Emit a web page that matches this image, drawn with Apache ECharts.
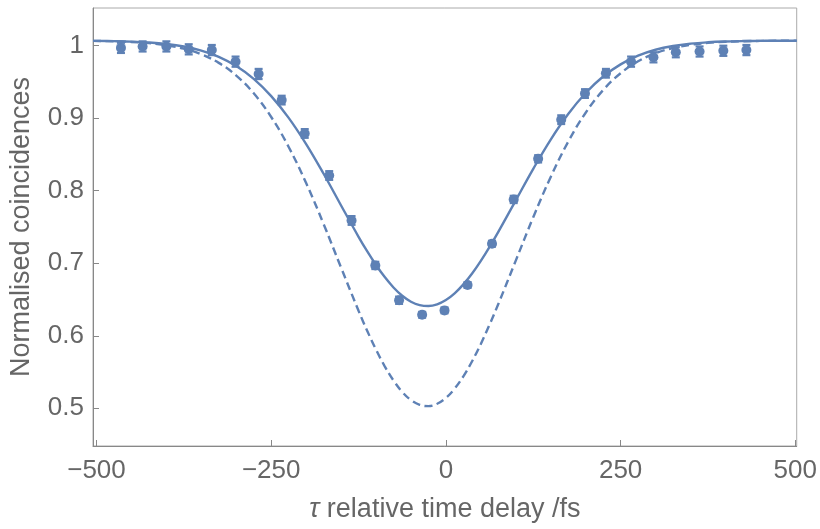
<!DOCTYPE html>
<html><head><meta charset="utf-8">
<script src="https://cdn.jsdelivr.net/npm/echarts@6/dist/echarts.min.js"></script>
<style>html,body{margin:0;padding:0;background:#fff}#c{width:820px;height:529px}</style>
</head><body><div id="c"></div>
<script>
// measured data points
const delays = [-465,-434,-400,-368,-335,-301,-268,-235,-202,-167,-135,-101,-67,-34,-2,31,66,97,132,165,199,229,265,297,329,363,397,430];
const coincidences = [0.997,0.999,0.999,0.995,0.994,0.978,0.961,0.925,0.879,0.821,0.759,0.697,0.649,0.629,0.635,0.670,0.727,0.788,0.844,0.898,0.934,0.962,0.978,0.984,0.991,0.992,0.993,0.994];
const errors = [0.007,0.007,0.007,0.007,0.007,0.007,0.007,0.006,0.006,0.006,0.006,0.005,0.005,0.004,0.004,0.004,0.004,0.005,0.005,0.006,0.006,0.006,0.007,0.007,0.007,0.007,0.007,0.007];
// fitted curve (solid) and theoretical curve (dashed)
const curveX = [-505,-475,-450,-425,-400,-375,-350,-325,-300,-275,-250,-225,-200,-175,-150,-125,-112.5,-100,-87.5,-75,-62.5,-50,-37.5,-25,-12.5,0,12.5,25,37.5,50,62.5,75,100,125,150,175,200,225,250,275,300,325,350,375,400,425,450,475,502];
const fitSolid = [1.0067,1.0063,1.0057,1.0045,1.0024,0.9989,0.9933,0.9847,0.9720,0.9543,0.9305,0.9005,0.8644,0.8234,0.7797,0.7365,0.7163,0.6976,0.6809,0.6666,0.6552,0.6470,0.6423,0.6410,0.6434,0.6493,0.6585,0.6709,0.6859,0.7033,0.7226,0.7433,0.7868,0.8302,0.8706,0.9058,0.9348,0.9575,0.9743,0.9863,0.9944,0.9996,1.0028,1.0047,1.0058,1.0064,1.0067,1.0069,1.0069];
const fitDashed = [1.0066,1.0061,1.0052,1.0036,1.0007,0.9959,0.9882,0.9763,0.9588,0.9344,0.9017,0.8604,0.8106,0.7541,0.6940,0.6345,0.6066,0.5809,0.5579,0.5383,0.5226,0.5113,0.5048,0.5030,0.5063,0.5144,0.5271,0.5441,0.5649,0.5888,0.6154,0.6438,0.7037,0.7635,0.8191,0.8676,0.9076,0.9388,0.9620,0.9785,0.9896,0.9968,1.0013,1.0039,1.0054,1.0062,1.0066,1.0068,1.0069];
const xTicks = [-500,-250,0,250,500];
const yTicks = [0.5,0.6,0.7,0.8,0.9,1];

const blue = '#5e81b5';
const txt = '#666666';
const font = 'Liberation Sans, Arial, sans-serif';

const chart = echarts.init(document.getElementById('c'), null, {renderer:'canvas'});
const pts = delays.map((x,i)=>[x, coincidences[i]]);
const errData = delays.map((x,i)=>[x, coincidences[i]-errors[i], coincidences[i]+errors[i]]);
const solid = curveX.map((x,i)=>[x, fitSolid[i]]);
const dashed = curveX.map((x,i)=>[x, fitDashed[i]]);

function renderErr(params, api){
  const x = api.value(0), lo = api.value(1), hi = api.value(2);
  const p1 = api.coord([x, lo]), p2 = api.coord([x, hi]);
  const w = 4;
  const style = {stroke: blue, lineWidth: 2.2};
  return {type:'group', children:[
    {type:'line', shape:{x1:p1[0],y1:p1[1],x2:p2[0],y2:p2[1]}, style},
    {type:'line', shape:{x1:p1[0]-w,y1:p1[1],x2:p1[0]+w,y2:p1[1]}, style},
    {type:'line', shape:{x1:p2[0]-w,y1:p2[1],x2:p2[0]+w,y2:p2[1]}, style}
  ]};
}

chart.setOption({
  animation:false,
  backgroundColor:'#fff',
  grid:{left:92,right:23,top:8,bottom:83,show:true,borderColor:'#aaaaaa',borderWidth:1,backgroundColor:'transparent'},
  xAxis:{type:'value',min:-505,max:502,
    axisLine:{show:true,onZero:false,lineStyle:{color:'#888',width:1}},
    axisTick:{show:true,inside:true,length:6,customValues:xTicks,lineStyle:{color:'#888'}},
    axisLabel:{customValues:xTicks,fontSize:26,color:txt,fontFamily:font,margin:12,
      formatter:v=>v<0?'\u2212'+Math.abs(v):String(v)},
    splitLine:{show:false},
    name:'{i|\u03c4} relative time delay /fs',nameLocation:'middle',nameGap:50,
    nameTextStyle:{fontSize:27,color:txt,fontFamily:font,rich:{i:{fontStyle:'italic',fontSize:27,color:txt,fontFamily:font}}}
  },
  yAxis:{type:'value',min:0.448,max:1.052,
    axisLine:{show:true,onZero:false,lineStyle:{color:'#888',width:1}},
    axisTick:{show:true,inside:true,length:6,customValues:yTicks,lineStyle:{color:'#888'}},
    axisLabel:{customValues:yTicks,fontSize:26,color:txt,fontFamily:font,margin:9,
      formatter:v=>String(Math.round(v*10)/10)},
    splitLine:{show:false},
    name:'Normalised coincidences',nameLocation:'middle',nameGap:58,
    nameTextStyle:{fontSize:27,color:txt,fontFamily:font}
  },
  series:[
    {type:'line',data:dashed,showSymbol:false,smooth:0.4,lineStyle:{color:blue,width:2.4,type:[8,4.5]},z:2},
    {type:'line',data:solid,showSymbol:false,smooth:0.4,lineStyle:{color:blue,width:2.4},z:3},
    {type:'custom',data:errData,renderItem:renderErr,z:4},
    {type:'scatter',data:pts,symbol:'circle',symbolSize:10,itemStyle:{color:blue,opacity:1},z:5}
  ]
});
</script></body></html>
